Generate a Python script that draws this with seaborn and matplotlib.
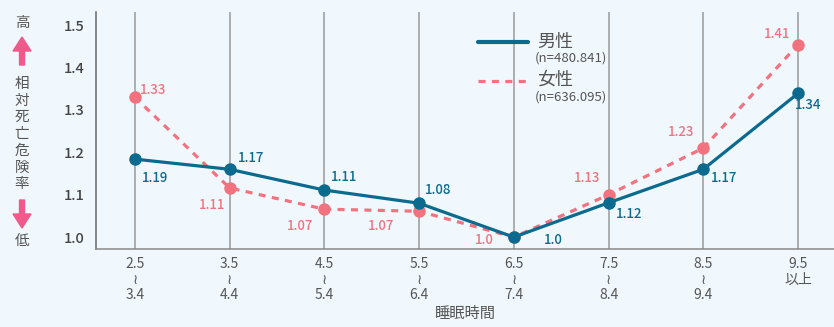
import matplotlib
matplotlib.use("Agg")
import matplotlib.pyplot as plt
import seaborn as sns
import pandas as pd
from matplotlib.lines import Line2D
from matplotlib.patches import FancyArrow

# ---- data ----
categories = ["2.5\n≀\n3.4", "3.5\n≀\n4.4", "4.5\n≀\n5.4", "5.5\n≀\n6.4",
              "6.5\n≀\n7.4", "7.5\n≀\n8.4", "8.5\n≀\n9.4", "9.5\n以上"]
male_values = [1.184, 1.160, 1.111, 1.080, 1.0, 1.081, 1.160, 1.339]
female_values = [1.330, 1.116, 1.066, 1.061, 1.0, 1.100, 1.210, 1.454]
male_labels = ["1.19", "1.17", "1.11", "1.08", "1.0", "1.12", "1.17", "1.34"]
female_labels = ["1.33", "1.11", "1.07", "1.07", "1.0", "1.13", "1.23", "1.41"]
series_names = ["男性", "女性"]
series_notes = ["(n=480.841)", "(n=636.095)"]
yticks = [1.0, 1.1, 1.2, 1.3, 1.4, 1.5]
ylabel_chars = "相対死亡危険率"
xlabel = "睡眠時間"

MALE = "#0b6a8e"
FEMALE = "#f2737f"
ARROW = "#ef5a8a"
BG = "#f0f8fd"
TXT = "#555555"

sns.set_theme(style="white")
plt.rcParams["font.family"] = ["Noto Sans CJK JP", "DejaVu Sans"]

fig = plt.figure(figsize=(8.34, 3.27), dpi=100, facecolor=BG)
ax = fig.add_axes([96/834, (327-249)/327, (834-96)/834, (249-12)/327])
ax.set_facecolor(BG)

idx = list(range(len(categories)))
df = pd.DataFrame({
    "x": idx + idx,
    "y": female_values + male_values,
    "sex": [series_names[1]] * len(idx) + [series_names[0]] * len(idx),
})
sns.lineplot(data=df, x="x", y="y", hue="sex", style="sex",
             hue_order=[series_names[1], series_names[0]],
             palette={series_names[0]: MALE, series_names[1]: FEMALE},
             dashes={series_names[0]: "", series_names[1]: (2.2, 2.0)},
             markers={series_names[0]: "o", series_names[1]: "o"},
             markersize=9, markeredgewidth=0, linewidth=2.3,
             legend=False, ax=ax, zorder=3)

ax.set_xlim(-0.41, 7.38)
ax.set_ylim(0.972, 1.531)
ax.set_xticks(idx)
ax.set_xticklabels(categories, fontsize=10, color=TXT, linespacing=1.12)
ax.set_yticks(yticks)
ax.set_yticklabels([f"{v:.1f}" for v in yticks], fontsize=10.5, color="#444444",
                   fontweight="medium")
ax.tick_params(axis="y", direction="in", length=12, width=1.1, color="#777777", pad=8)
ax.tick_params(axis="x", length=0, pad=6)
ax.set_xlabel(xlabel, fontsize=11, color=TXT, labelpad=2)
ax.set_ylabel("")
ax.grid(axis="x", color="#999999", linewidth=1.1)
ax.grid(axis="y", visible=False)
for s in ["top", "right"]:
    ax.spines[s].set_visible(False)
ax.spines["left"].set_color("#666666")
ax.spines["left"].set_linewidth(1.1)
ax.spines["bottom"].set_color("#888888")
ax.spines["bottom"].set_linewidth(1.1)

# data labels (offsets in pixels, text centres)
male_off = [(20, -19), (21, 11), (20, 13), (19, 13), (40, -3), (21, -11), (21, -9), (10, -12)]
female_off = [(18, 7), (-18, -17), (-24, -17), (-38, -15), (-29, -3), (-21, 17), (-22, 16), (-21, 11)]
for i in idx:
    ax.annotate(male_labels[i], (i, male_values[i]), xytext=male_off[i],
                textcoords="offset pixels", fontsize=9.5, color=MALE,
                fontweight="medium", ha="center", va="center")
    ax.annotate(female_labels[i], (i, female_values[i]), xytext=female_off[i],
                textcoords="offset pixels", fontsize=9.5, color=FEMALE,
                fontweight="medium", ha="center", va="center")

# legend (manual)
ax.add_line(Line2D([0.518, 0.585], [0.873, 0.873], transform=ax.transAxes,
                   color=MALE, linewidth=3))
ax.add_line(Line2D([0.518, 0.585], [0.709, 0.709], transform=ax.transAxes,
                   color=FEMALE, linewidth=2.3, dashes=(2.2, 2.0)))
ax.text(0.598, 0.873, series_names[0], transform=ax.transAxes, fontsize=13,
        color=TXT, va="center", ha="left")
ax.text(0.595, 0.806, series_notes[0], transform=ax.transAxes, fontsize=9.5,
        color=TXT, va="center", ha="left")
ax.text(0.598, 0.713, series_names[1], transform=ax.transAxes, fontsize=13,
        color=TXT, va="center", ha="left")
ax.text(0.595, 0.641, series_notes[1], transform=ax.transAxes, fontsize=9.5,
        color=TXT, va="center", ha="left")

# vertical y-axis label with arrows
W, H = 834, 327
def fx(px):
    return px / W
def fy(py):
    return 1 - py / H
fig.text(fx(22), fy(23), "高", fontsize=10.5, color=TXT, ha="center", va="center")
fig.text(fx(22), fy(134), "\n".join(ylabel_chars), fontsize=10.5, color=TXT,
         ha="center", va="center", linespacing=1.25)
fig.text(fx(22), fy(241), "低", fontsize=10.5, color=TXT, ha="center", va="center")
fig.patches.append(FancyArrow(fx(22), fy(65), 0, fy(37) - fy(65), width=fx(5),
                              head_width=fx(18), head_length=(fy(37) - fy(65)) * 0.5,
                              length_includes_head=True, color=ARROW,
                              transform=fig.transFigure, figure=fig))
fig.patches.append(FancyArrow(fx(22), fy(200), 0, fy(228) - fy(200), width=fx(5),
                              head_width=fx(18), head_length=(fy(200) - fy(228)) * 0.5,
                              length_includes_head=True, color=ARROW,
                              transform=fig.transFigure, figure=fig))

fig.savefig("out.png", dpi=100, facecolor=BG)
